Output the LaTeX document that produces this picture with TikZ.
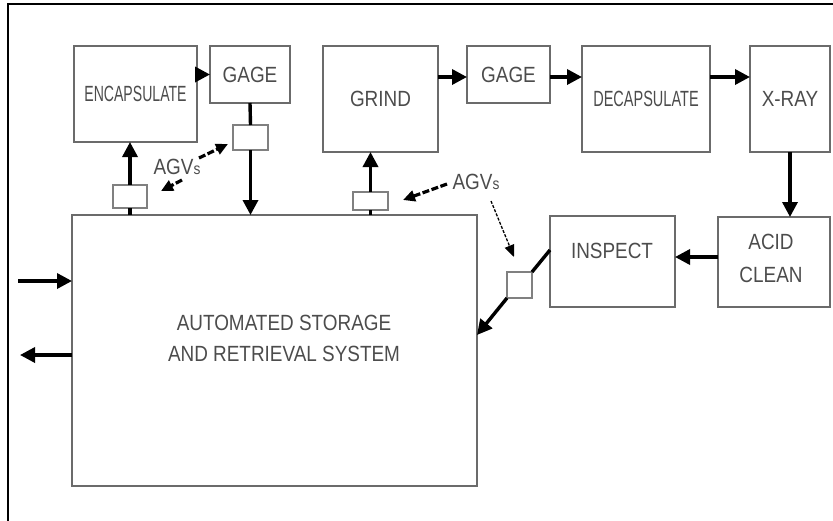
\documentclass[tikz,border=0pt]{standalone}
\usepackage{fontspec}
\usepackage{graphicx}
\setmainfont{Liberation Sans}
\usetikzlibrary{arrows.meta}
\newcommand\nar[2][0.86]{\scalebox{#1}[1]{#2}}
\begin{document}
\begin{tikzpicture}[x=1pt,y=-1pt,
  box/.style={draw=black!58,line width=2.8pt,rectangle,inner sep=0pt,outer sep=0pt,
    text=black!70,font=\fontsize{22}{24}\selectfont,align=center},
  agvbox/.style={draw=black!50,line width=2pt,rectangle,inner sep=0pt,outer sep=0pt,fill=white},
  lab/.style={text=black!70,font=\fontsize{22}{24}\selectfont,inner sep=0pt},
  arr/.style={line width=3.4pt,-{Triangle[length=15pt,width=15pt]}},
  ln/.style={line width=3.4pt},
  darr/.style={line width=3.2pt,dash pattern=on 7pt off 2.5pt,-{Triangle[length=12pt,width=11pt]}},
  tarr/.style={line width=1.3pt,dash pattern=on 3pt off 1.5pt,-{Triangle[length=12pt,width=10pt]}}
]
\useasboundingbox (0,0) rectangle (833,520);
\draw[line width=2.8pt] (8,521) -- (8,4) -- (834,4);

% process boxes
\node[box,minimum width=123,minimum height=96] (enc) at (135.5,94) {\nar[0.64]{ENCAPSULATE}};
\node[box,minimum width=80,minimum height=57] (gage1) at (250,74.5) {\nar{GAGE}};
\node[box,minimum width=115,minimum height=106] (grind) at (380.5,99) {\nar{GRIND}};
\node[box,minimum width=83,minimum height=57] (gage2) at (508.5,74.5) {\nar{GAGE}};
\node[box,minimum width=128,minimum height=106] (decap) at (646,99) {\nar[0.66]{DECAPSULATE}};
\node[box,minimum width=80,minimum height=106] (xray) at (790,99) {\nar{X-RAY}};
\node[box,minimum width=112,minimum height=90] (acid) at (774,262) {};
\node[lab,align=center] at (771,258) {\nar{ACID}\\[9pt]\nar{CLEAN}};
\node[box,minimum width=125,minimum height=91] (insp) at (612.5,261.5) {};
\node[lab] at (612,251) {\nar{INSPECT}};
\node[box,minimum width=405,minimum height=271] (asrs) at (274.5,350.5) {};
\node[lab,align=center] (asrstxt) at (284,338) {\nar{AUTOMATED STORAGE}\\[7pt]\nar{AND RETRIEVAL SYSTEM}};

% AGV boxes
\node[agvbox,minimum width=35,minimum height=25] (agv1) at (250.5,137.5) {};
\node[agvbox,minimum width=34,minimum height=23] (agv2) at (130,196.5) {};
\node[agvbox,minimum width=35,minimum height=18] (agv3) at (370.5,201) {};
\node[agvbox,minimum width=25,minimum height=26] (agv4) at (519.5,285) {};

% AGV labels
\node[lab] (lab1) at (177,167) {\nar{AGV\fontsize{16}{18}\selectfont s}};
\node[lab] (lab2) at (476,182) {\nar{AGV\fontsize{16}{18}\selectfont s}};

% flow arrows
\draw[arr] (enc.east |- gage1.west) -- (gage1.west);
\draw[ln] (gage1.south) -- (agv1.north);
\draw[arr] (agv1.south) -- (agv1.south |- asrs.north);
\draw[ln] (agv2.south |- asrs.north) -- (agv2.south);
\draw[arr] (agv2.north) -- (agv2.north |- enc.south);
\draw[ln] (agv3.south |- asrs.north) -- (agv3.south);
\draw[arr] (agv3.north) -- (agv3.north |- grind.south);
\draw[arr] (grind.east |- 0,77) -- (gage2.west |- 0,77);
\draw[arr] (gage2.east |- 0,77) -- (decap.west |- 0,77);
\draw[arr] (decap.east |- 0,77) -- (xray.west |- 0,77);
\draw[arr] (xray.south) -- (xray.south |- acid.north);
\draw[arr] (acid.west |- 0,257) -- (insp.east |- 0,257);
\draw[ln] (insp.west |- 0,250) -- (agv4.north east);
\draw[arr] (agv4.south west) -- (asrs.east |- 0,335);

% external arrows
\coordinate (inL) at (18,281);
\coordinate (outL) at (20,355);
\draw[arr] (inL) -- (asrs.west |- inL);
\draw[arr] (asrs.west |- outL) -- (outL);

% AGV pointer arrows
\coordinate (p1s) at (182,180);
\coordinate (p1e) at (161,191);
\coordinate (p2s) at (199,158);
\coordinate (p2e) at (228,144);
\coordinate (p3s) at (447,184);
\coordinate (p3e) at (403,200);
\coordinate (p4s) at (491,201);
\coordinate (p4e) at (514,257);
\draw[darr] (p1s) -- (p1e);
\draw[darr] (p2s) -- (p2e);
\draw[darr] (p3s) -- (p3e);
\draw[tarr] (p4s) -- (p4e);
\end{tikzpicture}
\end{document}
